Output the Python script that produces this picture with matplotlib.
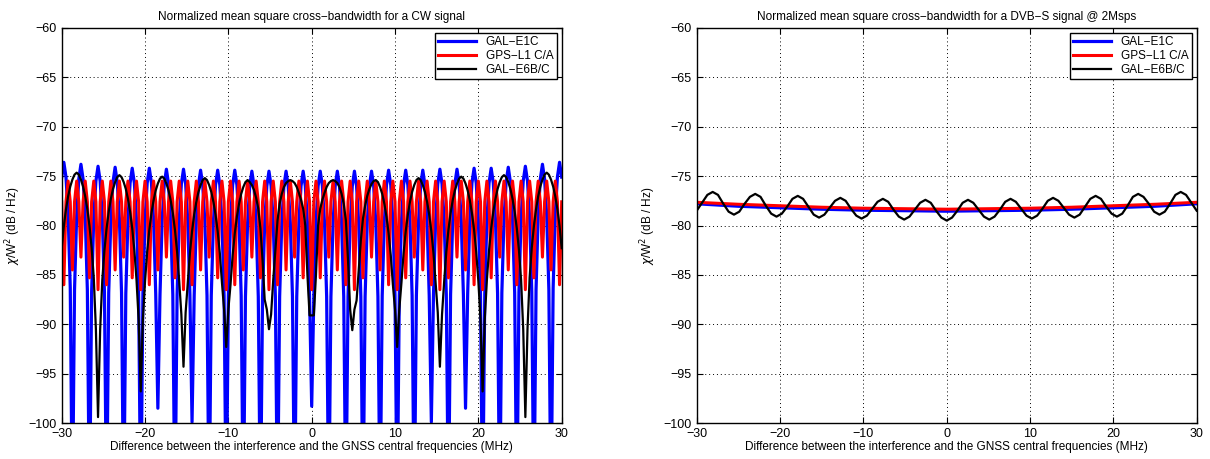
import matplotlib
matplotlib.use('Agg')
import matplotlib.pyplot as plt
import numpy as np

# frequency grid for the CW curves (MHz), 235 samples from -30 to 30
freq_cw = np.linspace(-30, 30, 235)

gal_e1c_cw = [
    -75.1, -73.6, -75.1, -78.8, -86.3,
    -110, -86.5, -79.0, -75.3, -73.8, -75.3, -79.0, -86.5,
    -110, -86.7, -79.2, -75.5, -74.0, -75.5, -79.2, -86.7,
    -110, -86.8, -79.3, -75.6, -74.1, -75.6, -79.3, -86.8,
    -110, -86.9, -79.4, -75.7, -74.2, -75.7, -79.4, -86.9,
    -110, -86.9, -79.4, -75.7, -74.2, -75.7, -79.4, -86.9,
    -98.5, -87.0, -79.5, -75.8, -74.3, -75.8, -79.5, -87.0,
    -110, -87.0, -79.5, -75.8, -74.3, -75.8, -79.5, -87.0,
    -99.9, -87.1, -79.6, -75.9, -74.4, -75.9, -79.6, -87.1,
    -110, -87.1, -79.6, -75.9, -74.4, -75.9, -79.6, -87.1,
    -110, -87.1, -79.6, -75.9, -74.4, -75.9, -79.6, -87.1,
    -110, -87.2, -79.7, -76.0, -74.5, -76.0, -79.7, -87.2,
    -110, -87.2, -79.7, -76.0, -74.5, -76.0, -79.7, -87.2,
    -110, -87.2, -79.7, -76.0, -74.5, -76.0, -79.7, -87.2,
    -110, -87.2, -79.7, -76.0, -74.5, -76.0, -79.7, -87.2,
    -98.3,
    -87.2, -79.7, -76.0, -74.5, -76.0, -79.7, -87.2, -110,
    -87.2, -79.7, -76.0, -74.5, -76.0, -79.7, -87.2, -110,
    -87.2, -79.7, -76.0, -74.5, -76.0, -79.7, -87.2, -110,
    -87.2, -79.7, -76.0, -74.5, -76.0, -79.7, -87.2, -110,
    -87.1, -79.6, -75.9, -74.4, -75.9, -79.6, -87.1, -110,
    -87.1, -79.6, -75.9, -74.4, -75.9, -79.6, -87.1, -110,
    -87.1, -79.6, -75.9, -74.4, -75.9, -79.6, -87.1, -99.9,
    -87.0, -79.5, -75.8, -74.3, -75.8, -79.5, -87.0, -110,
    -87.0, -79.5, -75.8, -74.3, -75.8, -79.5, -87.0, -98.5,
    -86.9, -79.4, -75.7, -74.2, -75.7, -79.4, -86.9, -110,
    -86.9, -79.4, -75.7, -74.2, -75.7, -79.4, -86.9, -110,
    -86.8, -79.3, -75.6, -74.1, -75.6, -79.3, -86.8, -110,
    -86.7, -79.2, -75.5, -74.0, -75.5, -79.2, -86.7, -110,
    -86.5, -79.0, -75.3, -73.8, -75.3, -79.0, -86.5, -110,
    -86.3, -78.8, -75.1, -73.6, -75.1,
]

gps_l1_cw = [
    -77.6,
    -86.0, -77.6, -75.5, -77.6, -84.5, -77.6, -75.5, -77.6,
    -83.2, -77.6, -75.5, -77.6, -85.3, -77.6, -75.5, -77.6,
    -86.5, -77.6, -75.5, -77.6, -86.0, -77.6, -75.5, -77.6,
    -84.5, -77.6, -75.5, -77.6, -83.2, -77.6, -75.5, -77.6,
    -85.3, -77.6, -75.5, -77.6, -86.5, -77.6, -75.5, -77.6,
    -86.0, -77.6, -75.5, -77.6, -84.5, -77.6, -75.5, -77.6,
    -83.2, -77.6, -75.5, -77.6, -85.3, -77.6, -75.5, -77.6,
    -86.5, -77.6, -75.5, -77.6, -86.0, -77.6, -75.5, -77.6,
    -84.5, -77.6, -75.5, -77.6, -83.2, -77.6, -75.5, -77.6,
    -85.3, -77.6, -75.5, -77.6, -86.5, -77.6, -75.5, -77.6,
    -86.0, -77.6, -75.5, -77.6, -84.5, -77.6, -75.5, -77.6,
    -83.2, -77.6, -75.5, -77.6, -85.3, -77.6, -75.5, -77.6,
    -86.5, -77.6, -75.5, -77.6, -86.0, -77.6, -75.5, -77.6,
    -84.5, -77.6, -75.5, -77.6, -83.2, -77.6, -75.5, -77.6,
    -85.3, -77.6, -75.5, -77.6,
    -86.5, -77.6, -75.5, -77.6,
    -85.3, -77.6, -75.5, -77.6, -83.2, -77.6, -75.5, -77.6,
    -84.5, -77.6, -75.5, -77.6, -86.0, -77.6, -75.5, -77.6,
    -86.5, -77.6, -75.5, -77.6, -85.3, -77.6, -75.5, -77.6,
    -83.2, -77.6, -75.5, -77.6, -84.5, -77.6, -75.5, -77.6,
    -86.0, -77.6, -75.5, -77.6, -86.5, -77.6, -75.5, -77.6,
    -85.3, -77.6, -75.5, -77.6, -83.2, -77.6, -75.5, -77.6,
    -84.5, -77.6, -75.5, -77.6, -86.0, -77.6, -75.5, -77.6,
    -86.5, -77.6, -75.5, -77.6, -85.3, -77.6, -75.5, -77.6,
    -83.2, -77.6, -75.5, -77.6, -84.5, -77.6, -75.5, -77.6,
    -86.0, -77.6, -75.5, -77.6, -86.5, -77.6, -75.5, -77.6,
    -85.3, -77.6, -75.5, -77.6, -83.2, -77.6, -75.5, -77.6,
    -84.5, -77.6, -75.5, -77.6, -86.0, -77.6, -75.5, -77.6,
    -86.5, -77.6, -75.5, -77.6, -85.3, -77.6, -75.5, -77.6,
    -83.2, -77.6, -75.5, -77.6, -84.5, -77.6, -75.5, -77.6,
    -86.0, -77.6,
]

gal_e6_cw = [
    -82.3, -80.05, -78.35, -77.05, -76.05, -75.35, -74.85, -74.65,
    -74.85, -75.35, -76.05, -77.05, -78.35, -80.05, -82.25, -85.25, -90.5, -99.4,
    -90.5, -85.5, -82.5, -80.3, -78.6, -77.3, -76.3, -75.6, -75.1, -74.9,
    -75.1, -75.6, -76.3, -77.3, -78.6, -80.3, -82.5, -85.5, -89.5, -96.8,
    -89.5, -85.65, -82.65, -80.45, -78.75, -77.45, -76.45, -75.75, -75.25, -75.05,
    -75.25, -75.75, -76.45, -77.45, -78.75, -80.45, -82.65, -85.65, -89.0, -94.3,
    -88.8, -85.8, -82.8, -80.6, -78.9, -77.6, -76.6, -75.9, -75.4, -75.2,
    -75.4, -75.9, -76.6, -77.6, -78.9, -80.6, -82.8, -85.8, -88.5, -92.3,
    -88.5, -86.0, -83.0, -80.8, -79.1, -77.8, -76.8, -76.1, -75.6, -75.4,
    -75.6, -75.9, -76.4, -77.2, -78.3, -80.3, -83.5, -87.5, -88.5, -90.5,
    -89.0, -85.5, -82.5, -79.5, -77.8, -76.8, -76.1, -75.7, -75.5, -75.4,
    -75.5, -75.7, -76.1, -76.7, -77.4, -78.3, -80.0, -85.0, -89.1,
    -89.1,
    -89.1, -85.0, -80.0, -78.3, -77.4, -76.7, -76.1, -75.7, -75.5, -75.4,
    -75.5, -75.7, -76.1, -76.8, -77.8, -79.5, -83.5, -88.5, -90.6, -88.5,
    -87.6, -84.5, -81.5, -79.3, -78.0, -77.0, -76.3, -75.8, -75.5, -75.4,
    -75.6, -76.1, -76.8, -77.8, -79.1, -80.8, -83.0, -86.0, -88.5, -92.3,
    -88.5, -85.8, -82.8, -80.6, -78.9, -77.6, -76.6, -75.9, -75.4, -75.2,
    -75.4, -75.9, -76.6, -77.6, -78.9, -80.6, -82.8, -85.8, -88.8, -94.3,
    -89.0, -85.65, -82.65, -80.45, -78.75, -77.45, -76.45, -75.75, -75.25, -75.05,
    -75.25, -75.75, -76.45, -77.45, -78.75, -80.45, -82.65, -85.65, -89.5, -96.8,
    -89.5, -85.5, -82.5, -80.3, -78.6, -77.3, -76.3, -75.6, -75.1, -74.9,
    -75.1, -75.6, -76.3, -77.3, -78.6, -80.3, -82.5, -85.5, -90.5, -99.4,
    -90.5, -85.25, -82.25, -80.05, -78.35, -77.05, -76.05, -75.35, -74.85, -74.65,
    -74.85, -75.35, -76.05, -77.05, -78.35, -80.05, -82.3,
]

# DVB-S curves
freq_dvb = np.linspace(-30, 30, 95)
gal_e6_dvb = [
    -78.5, -77.7, -76.9, -76.6, -76.9, -77.8, -78.6, -78.9,
    -78.6, -77.8, -77.1, -76.8, -77.1, -78.0, -78.8, -79.1,
    -78.8, -78.1, -77.3, -77.0, -77.3, -78.1, -78.9, -79.2,
    -78.9, -78.2, -77.5, -77.2, -77.5, -78.3, -79.0, -79.3,
    -79.0, -78.3, -77.6, -77.3, -77.6, -78.4, -79.1, -79.4,
    -79.1, -78.4, -77.7, -77.4, -77.7, -78.5, -79.2,
    -79.5,
    -79.2, -78.5, -77.7, -77.4, -77.7, -78.4, -79.1, -79.4,
    -79.1, -78.4, -77.6, -77.3, -77.6, -78.3, -79.0, -79.3,
    -79.0, -78.3, -77.5, -77.2, -77.5, -78.2, -78.9, -79.2,
    -78.9, -78.1, -77.3, -77.0, -77.3, -78.1, -78.8, -79.1,
    -78.8, -78.0, -77.1, -76.8, -77.1, -77.8, -78.6, -78.9,
    -78.6, -77.8, -76.9, -76.6, -76.9, -77.7, -78.5,
]
freq_dvb_smooth = [-30, -25, -20, -15, -10, -5, 0, 5, 10, 15, 20, 25, 30]
gps_l1_dvb = [-77.65, -77.85, -78.0, -78.15, -78.25, -78.3, -78.35,
              -78.3, -78.25, -78.15, -78.0, -77.85, -77.65]
gal_e1c_dvb = [-77.8, -78.05, -78.2, -78.35, -78.45, -78.5, -78.55,
               -78.5, -78.45, -78.35, -78.2, -78.05, -77.8]

labels = ['GAL\u2212E1C', 'GPS\u2212L1 C/A', 'GAL\u2212E6B/C']
titles = ['Normalized mean square cross\u2212bandwidth for a CW signal',
          'Normalized mean square cross\u2212bandwidth for a DVB\u2212S signal @ 2Msps']

plt.rcParams['font.family'] = ['Liberation Sans', 'DejaVu Sans']
plt.rcParams['font.size'] = 8.5

fig = plt.figure(figsize=(12.1, 4.59), dpi=100)
ax1 = fig.add_axes([0.051, 0.0784, 0.4132, 0.8606])
ax2 = fig.add_axes([0.5758, 0.0784, 0.4132, 0.8606])

ax1.plot(freq_cw, gal_e1c_cw, color='b', lw=2.3, label=labels[0])
ax1.plot(freq_cw, gps_l1_cw, color='r', lw=2.2, label=labels[1])
ax1.plot(freq_cw, gal_e6_cw, color='k', lw=1.6, label=labels[2])

ax2.plot(freq_dvb_smooth, gal_e1c_dvb, color='b', lw=2.3, label=labels[0])
ax2.plot(freq_dvb_smooth, gps_l1_dvb, color='r', lw=2.2, label=labels[1])
ax2.plot(freq_dvb, gal_e6_dvb, color='k', lw=1.6, label=labels[2])

for ax, title in zip([ax1, ax2], titles):
    ax.set_xlim(-30, 30)
    ax.set_ylim(-100, -60)
    ax.set_xticks([-30, -20, -10, 0, 10, 20, 30])
    ax.set_yticks(range(-100, -59, 5))
    ax.grid(True, color='k', linestyle=(0, (1, 3)), linewidth=0.7)
    ax.tick_params(direction='in', top=True, right=True, length=4, labelsize=9)
    for s in ax.spines.values():
        s.set_linewidth(1.0)
    ax.set_title(title, fontsize=8.5, pad=6)
    ax.set_xlabel('Difference between the interference and the GNSS central frequencies (MHz)',
                  fontsize=8.5, labelpad=1)
    ax.set_ylabel('$\\chi$/W$^2$ (dB / Hz)', fontsize=8.5, labelpad=4)
    leg = ax.legend(loc='upper right', fancybox=False, edgecolor='k', framealpha=1,
                    handlelength=3.2, borderpad=0.3, labelspacing=0.15, borderaxespad=0.4,
                    fontsize=8.5)
    leg.get_frame().set_linewidth(1.0)

fig.savefig('out.png', dpi=100)
